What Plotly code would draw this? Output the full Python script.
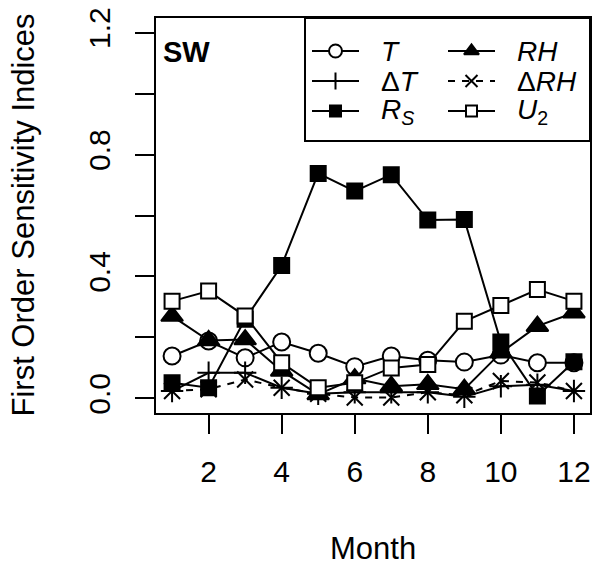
import plotly.graph_objects as go

months = list(range(1, 13))
T_vals    = [0.139, 0.188, 0.133, 0.185, 0.148, 0.104, 0.139, 0.125, 0.119, 0.142, 0.117, 0.117]
dT_vals   = [0.024, 0.084, 0.084, 0.035, 0.015, 0.020, 0.020, 0.020, 0.005, 0.040, 0.045, 0.024]
Rs_vals   = [0.051, 0.035, 0.260, 0.436, 0.738, 0.680, 0.734, 0.585, 0.587, 0.185, 0.008, 0.120]
RH_vals   = [0.270, 0.190, 0.193, 0.090, 0.013, 0.065, 0.040, 0.046, 0.030, 0.150, 0.237, 0.281]
dRH_vals  = [0.024, 0.030, 0.062, 0.035, 0.015, 0.003, 0.003, 0.020, 0.010, 0.057, 0.052, 0.024]
U2_vals   = [0.319, 0.352, 0.270, 0.117, 0.035, 0.051, 0.100, 0.111, 0.253, 0.305, 0.357, 0.319]

x_ticks = [2, 4, 6, 8, 10, 12]
y_ticks = [0.0, 0.4, 0.8, 1.2]
y_ticktext = ["0.0", "0.4", "0.8", "1.2"]
y_minor_ticks = [0.2, 0.6, 1.0]

labels = ["<i>T</i>", "Δ<i>T</i>", "<i>R</i><sub><i>S</i></sub>",
          "<i>RH</i>", "Δ<i>RH</i>", "<i>U</i><sub>2</sub>"]

FONT = "Liberation Sans, Arial, Helvetica, sans-serif"
W, H = 596, 567
L, R, Tm, B = 156, 6, 18, 154
PW, PH = W - L - R, H - Tm - B

series = [
    # values, symbol, size, fill, dash, legend size
    (T_vals,   "circle",        17, "white", "solid", 13),
    (dT_vals,  "cross-thin",    16, "black", "solid", 12),
    (Rs_vals,  "square",        15, "black", "solid", 11),
    (RH_vals,  "triangle-up",   19, "black", "solid", 13),
    (dRH_vals, "x-thin",        16, "black", "7px,7px", 12),
    (U2_vals,  "square",        15, "white", "solid", 11),
]

fig = go.Figure()
for vals, sym, sz, fill, dash, _ in series:
    fig.add_trace(go.Scatter(
        x=months, y=vals, mode="lines+markers",
        line=dict(color="black", width=2, dash=dash),
        marker=dict(symbol=sym, size=sz, color=fill,
                    line=dict(color="black", width=2)),
        showlegend=False, cliponaxis=False, hoverinfo="skip"))

# manual legend (pixel coordinates via overlay axes)
rows = [51, 81, 111]
cols = [(312, 359, 379), (448, 495, 515)]
for i, (vals, sym, sz, fill, dash, lsz) in enumerate(series):
    c = cols[i // 3]
    ry = rows[i % 3]
    fig.add_trace(go.Scatter(
        x=[c[0], c[1]], y=[ry, ry], mode="lines", xaxis="x2", yaxis="y2",
        line=dict(color="black", width=2, dash=dash),
        showlegend=False, hoverinfo="skip"))
    fig.add_trace(go.Scatter(
        x=[(c[0] + c[1]) / 2], y=[ry], mode="markers", xaxis="x2", yaxis="y2",
        marker=dict(symbol=sym, size=lsz, color=fill,
                    line=dict(color="black", width=2)),
        showlegend=False, hoverinfo="skip"))
    fig.add_annotation(x=c[2], y=ry, xref="x2", yref="y2", text=labels[i],
                       showarrow=False, xanchor="left", yanchor="middle",
                       font=dict(family=FONT, size=28, color="black"))

def px(xp):
    return (xp - L) / PW

def py(yp):
    return (H - B - yp) / PH

fig.add_shape(type="rect", xref="paper", yref="paper",
              x0=px(305), x1=1, y0=py(141), y1=1,
              line=dict(color="black", width=2), fillcolor="rgba(0,0,0,0)")

fig.add_annotation(x=px(161), y=py(52), xref="paper", yref="paper", text="<b>SW</b>",
                   showarrow=False, xanchor="left", yanchor="middle",
                   font=dict(family=FONT, size=29, color="black"))

fig.add_annotation(x=px(23), y=0.5, xref="paper", yref="paper",
                   text="First Order Sensitivity Indices", textangle=-90,
                   showarrow=False, xanchor="center", yanchor="middle",
                   font=dict(family=FONT, size=31, color="black"))
fig.add_annotation(x=0.5, y=py(548), xref="paper", yref="paper", text="Month",
                   showarrow=False, xanchor="center", yanchor="middle",
                   font=dict(family=FONT, size=31, color="black"))

fig.update_layout(
    width=W, height=H, margin=dict(l=L, r=R, t=Tm, b=B, pad=0, autoexpand=False),
    paper_bgcolor="white", plot_bgcolor="white",
    font=dict(family=FONT, size=30, color="black"),
    xaxis=dict(range=[0.56, 12.44], tickvals=x_ticks, ticks="outside", ticklen=19,
               tickwidth=2, tickcolor="black", showline=True, mirror=True,
               linecolor="black", linewidth=2, showgrid=False, zeroline=False,
               tickfont=dict(size=30), ticklabelstandoff=12, automargin=False),
    yaxis=dict(range=[-0.048, 1.248], tickvals=y_ticks, ticktext=y_ticktext,
               ticks="outside", ticklen=19, tickwidth=2, tickcolor="black",
               showline=True, mirror=True, linecolor="black", linewidth=2,
               showgrid=False, zeroline=False, tickangle=-90,
               tickfont=dict(size=30), ticklabelstandoff=13, automargin=False,
               minor=dict(tickvals=y_minor_ticks, ticks="outside", ticklen=19,
                          tickwidth=2, tickcolor="black", showgrid=False)),
    xaxis2=dict(range=[L, W - R], overlaying="x", visible=False),
    yaxis2=dict(range=[H - B, Tm], overlaying="y", visible=False),
)

fig.write_html("out.html", config={"displayModeBar": False},
               post_script="document.body.style.margin='0px';")
